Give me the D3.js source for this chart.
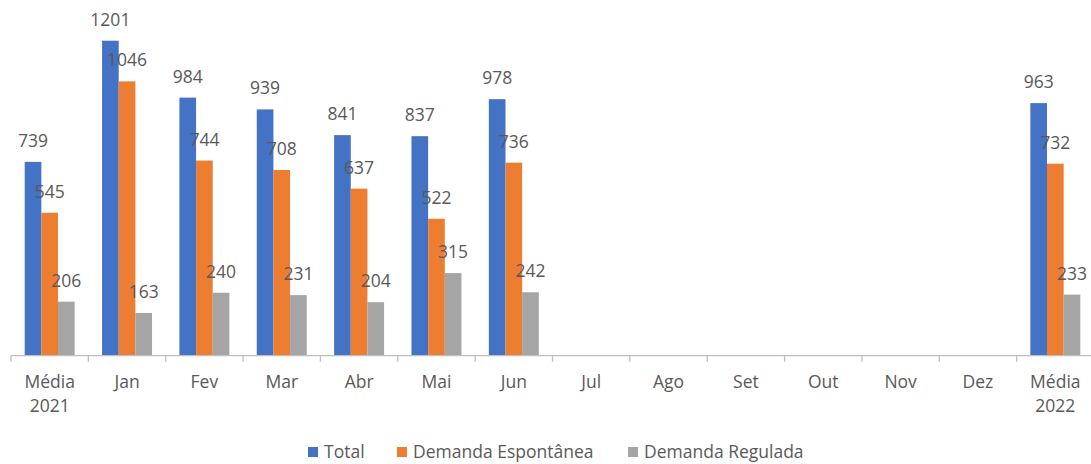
<!DOCTYPE html>
<html>
<head>
<meta charset="utf-8">
<script src="https://cdn.jsdelivr.net/npm/d3@7"></script>
<style>
	body { margin: 0; background: #fff; }
	svg { display: block; }
</style>
</head>
<body>
<div id="chart"></div>
<script>
// chart data
const categories = ['Média 2021', 'Jan', 'Fev', 'Mar', 'Abr', 'Mai', 'Jun', 'Jul', 'Ago', 'Set', 'Out', 'Nov', 'Dez', 'Média 2022'];
const seriesNames = ['Total', 'Demanda Espontânea', 'Demanda Regulada'];
const total     = [739, 1201, 984, 939, 841, 837, 978, null, null, null, null, null, null, 963];
const espontanea = [545, 1046, 744, 708, 637, 522, 736, null, null, null, null, null, null, 732];
const regulada  = [206, 163, 240, 231, 204, 315, 242, null, null, null, null, null, null, 233];
const colors = ['#4472C4', '#ED7D31', '#A5A5A5'];

const W = 1091, H = 464,
	left = 11, right = 1094, baseline = 355.7, topPx = 40.7,
	font = '"Open Sans", sans-serif',
	fontSize = '17.5px',
	textColor = '#595959';

const svg = d3.select('#chart').append('svg').attr('width', W).attr('height', H);

const scaleX = d3.scaleBand().domain(categories).range([left, right]).paddingInner(0).paddingOuter(0);
const groupW = scaleX.bandwidth() * 0.646;
const scaleS = d3.scaleBand().domain(seriesNames).range([0, groupW]);
const scaleY = d3.scaleLinear().domain([0, 1201]).range([baseline, topPx]);

const allSeries = [total, espontanea, regulada];

// bars and labels
allSeries.forEach(function(vals, si){
	const g = svg.append('g');
	const pts = categories.map((c, i) => ({c: c, v: vals[i]})).filter(d => d.v != null);
	const off = (scaleX.bandwidth() - groupW) / 2;
	g.selectAll('rect').data(pts).enter().append('rect')
		.attr('x', d => scaleX(d.c) + off + scaleS(seriesNames[si]))
		.attr('y', d => scaleY(d.v))
		.attr('width', scaleS.bandwidth())
		.attr('height', d => baseline - scaleY(d.v))
		.attr('fill', colors[si]);
	g.selectAll('text').data(pts).enter().append('text')
		.attr('x', d => scaleX(d.c) + off + scaleS(seriesNames[si]) + scaleS.bandwidth() / 2)
		.attr('y', d => scaleY(d.v) - 15)
		.attr('text-anchor', 'middle')
		.style('font-family', font)
		.style('font-size', fontSize)
		.attr('fill', textColor)
		.text(d => d.v);
});

// x axis
const axis = svg.append('g');
axis.append('line')
	.attr('x1', left).attr('x2', right)
	.attr('y1', baseline).attr('y2', baseline)
	.attr('stroke', '#BFBFBF').attr('stroke-width', 1.3);
axis.selectAll('.tick').data(categories).enter().append('line')
	.attr('x1', d => scaleX(d)).attr('x2', d => scaleX(d))
	.attr('y1', baseline).attr('y2', baseline + 6)
	.attr('stroke', '#BFBFBF').attr('stroke-width', 1.3);
axis.selectAll('.lbl').data(categories).enter().append('text')
	.attr('x', d => scaleX(d) + scaleX.bandwidth() / 2)
	.attr('y', 388)
	.attr('text-anchor', 'middle')
	.style('font-family', font)
	.style('font-size', fontSize)
	.attr('fill', textColor)
	.each(function(d){
		const parts = d.split(' ');
		const t = d3.select(this);
		parts.forEach(function(p, pi){
			t.append('tspan').attr('x', scaleX(d) + scaleX.bandwidth() / 2).attr('dy', pi === 0 ? 0 : 24).text(p);
		});
	});

// legend
const legendX = [308, 397, 628];
const legend = svg.append('g');
seriesNames.forEach(function(n, i){
	legend.append('rect')
		.attr('x', legendX[i]).attr('y', 447)
		.attr('width', 10).attr('height', 10)
		.attr('fill', colors[i]);
	legend.append('text')
		.attr('x', legendX[i] + 16).attr('y', 458)
		.style('font-family', font)
		.style('font-size', fontSize)
		.attr('fill', textColor)
		.text(n);
});
</script>
</body>
</html>
